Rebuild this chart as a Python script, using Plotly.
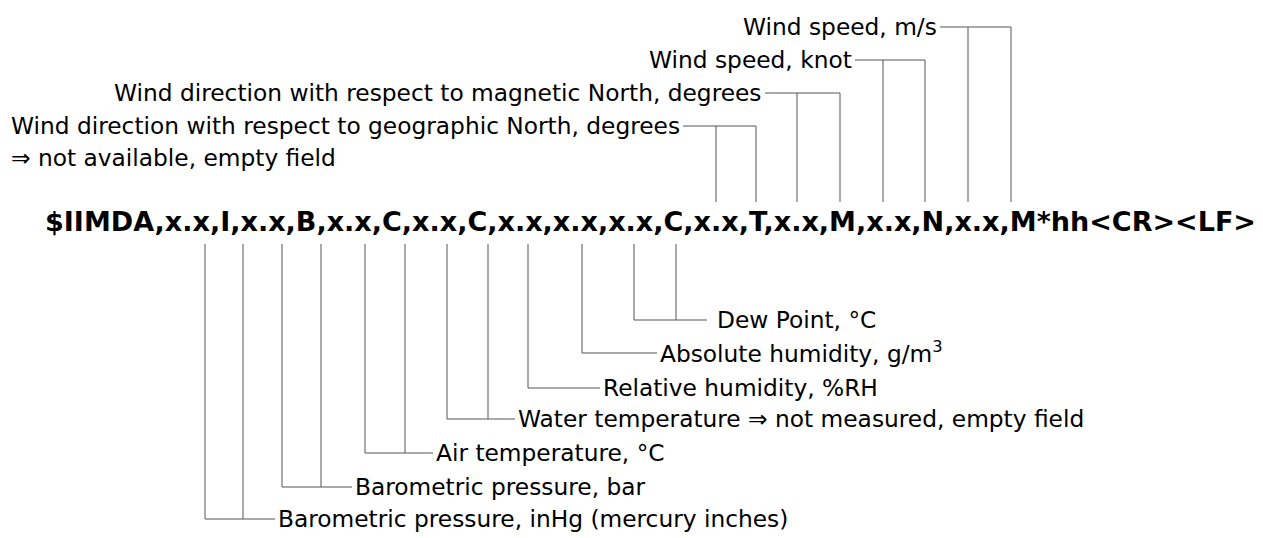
import plotly.graph_objects as go

# ---- content (data) ----
sentence = "$IIMDA,x.x,I,x.x,B,x.x,C,x.x,C,x.x,x.x,x.x,C,x.x,T,x.x,M,x.x,N,x.x,M*hh<CR><LF>"

top_labels = [
    "Wind direction with respect to geographic North, degrees",
    "Wind direction with respect to magnetic North, degrees",
    "Wind speed, knot",
    "Wind speed, m/s",
]
top_note = "\u21d2 not available, empty field"

bottom_labels = [
    "Dew Point, \u00b0C",
    "Absolute humidity, g/m<sup>3</sup>",
    "Relative humidity, %RH",
    "Water temperature \u21d2 not measured, empty field",
    "Air temperature, \u00b0C",
    "Barometric pressure, bar",
    "Barometric pressure, inHg (mercury inches)",
]

# ---- geometry (pixel layout of the diagram) ----
W, H = 1263, 538
PAGE_OFFSET = 8          # default page margin around the plot div
sentence_pos = (43, 221)
note_pos = (9, 157)
top_bottom_y = 202       # lower end of the upper connectors
bot_top_y = 244          # upper end of the lower connectors

# (label row y, line start x, field connector xs)
top_geom = [
    (126, 683, [716, 756]),
    (93, 765, [797, 840]),
    (60, 855, [883, 925]),
    (27, 940, [968, 1011]),
]
bottom_geom = [
    (320, 707, [634, 676]),
    (353, 657, [582]),
    (388, 600, [528]),
    (419, 515, [447, 488]),
    (453, 433, [365, 405]),
    (487, 352, [282, 321]),
    (519, 275, [205, 243]),
]

LINE = "#555555"
FONT = "DejaVu Sans"
SIZE = 23.3

fig = go.Figure()
annotations = []

def add_line(xs, ys):
    fig.add_trace(go.Scatter(x=xs, y=ys, mode="lines",
                             line=dict(color=LINE, width=1),
                             hoverinfo="skip", showlegend=False))

for label, (y, x0, fx) in zip(top_labels, top_geom):
    add_line([x0, max(fx)], [y, y])
    for f in fx:
        add_line([f, f], [y, top_bottom_y])
    annotations.append(dict(x=x0 - 1, y=y - 1, text=label, xanchor="right",
                            yanchor="middle", showarrow=False,
                            font=dict(family=FONT, size=SIZE, color="black")))

annotations.append(dict(x=note_pos[0], y=note_pos[1], text=top_note, xanchor="left",
                        yanchor="middle", showarrow=False,
                        font=dict(family=FONT, size=SIZE, color="black")))

for label, (y, x1, fx) in zip(bottom_labels, bottom_geom):
    add_line([min(fx), x1], [y, y])
    for f in fx:
        add_line([f, f], [bot_top_y, y])
    gap = 8 if label.startswith("Dew") else 1
    annotations.append(dict(x=x1 + gap, y=y - 1, text=label, xanchor="left",
                            yanchor="middle", showarrow=False,
                            font=dict(family=FONT, size=SIZE, color="black")))

annotations.append(dict(x=sentence_pos[0], y=sentence_pos[1], text="<b>" + sentence + "</b>",
                        xanchor="left", yanchor="middle", showarrow=False,
                        font=dict(family=FONT, size=27, color="black")))

fig.update_layout(
    width=W, height=H,
    margin=dict(l=0, r=0, t=0, b=0),
    paper_bgcolor="white", plot_bgcolor="white",
    xaxis=dict(range=[PAGE_OFFSET, W + PAGE_OFFSET], visible=False, fixedrange=True),
    yaxis=dict(range=[H + PAGE_OFFSET, PAGE_OFFSET], visible=False, fixedrange=True),
    annotations=annotations,
    showlegend=False,
)

fig.write_html("out.html")
